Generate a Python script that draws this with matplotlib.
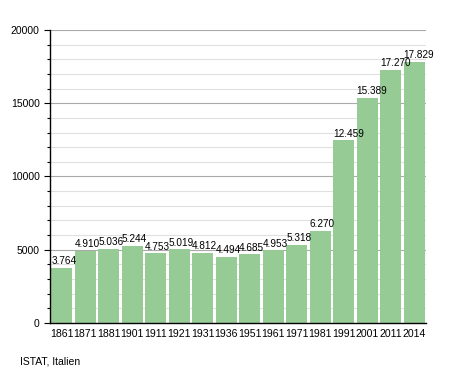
import matplotlib.pyplot as plt
from matplotlib.ticker import MultipleLocator

plt.rcParams['font.family'] = ['Liberation Sans', 'DejaVu Sans']

# Einwohner
jahre = ['1861', '1871', '1881', '1901', '1911', '1921', '1931', '1936', '1951',
         '1961', '1971', '1981', '1991', '2001', '2011', '2014']
einwohner = [3764, 4910, 5036, 5244, 4753, 5019, 4812, 4494, 4685,
             4953, 5318, 6270, 12459, 15389, 17270, 17829]
beschriftung = ['3.764', '4.910', '5.036', '5.244', '4.753', '5.019', '4.812', '4.494', '4.685',
                '4.953', '5.318', '6.270', '12.459', '15.389', '17.270', '17.829']

fig = plt.figure(figsize=(4.55, 3.73), dpi=100)
ax = fig.add_axes([50/455, 50/373, 376/455, 293/373])

x = range(len(jahre))
ax.bar(x, einwohner, width=0.9, color='#96cb96', zorder=2)
for i, (v, t) in enumerate(zip(einwohner, beschriftung)):
    ax.text(i - 0.45, v + 120, t, ha='left', va='bottom', fontsize=7.2, zorder=3)

ax.set_xlim(-0.5, len(jahre) - 0.5)
ax.set_ylim(0, 20000)
ax.set_xticks(list(x))
ax.set_xticklabels(jahre, fontsize=7.6)
ax.yaxis.set_major_locator(MultipleLocator(5000))
ax.yaxis.set_minor_locator(MultipleLocator(1000))
ax.tick_params(axis='y', labelsize=7.5, length=4, width=0.8)
ax.tick_params(axis='y', which='minor', length=2, width=0.8)
ax.tick_params(axis='x', length=0, pad=4)
ax.grid(axis='y', which='major', color='#aaaaaa', linewidth=0.8, zorder=0)
ax.grid(axis='y', which='minor', color='#e0e0e0', linewidth=0.8, zorder=0)
for s in ['top', 'right']:
    ax.spines[s].set_visible(False)
ax.spines['left'].set_linewidth(1)
ax.spines['bottom'].set_linewidth(1)

# Quelle
fig.text(20/455, 1 - 362/373, 'ISTAT, Italien', fontsize=7.5, va='center')

plt.savefig('out.png', dpi=100)
